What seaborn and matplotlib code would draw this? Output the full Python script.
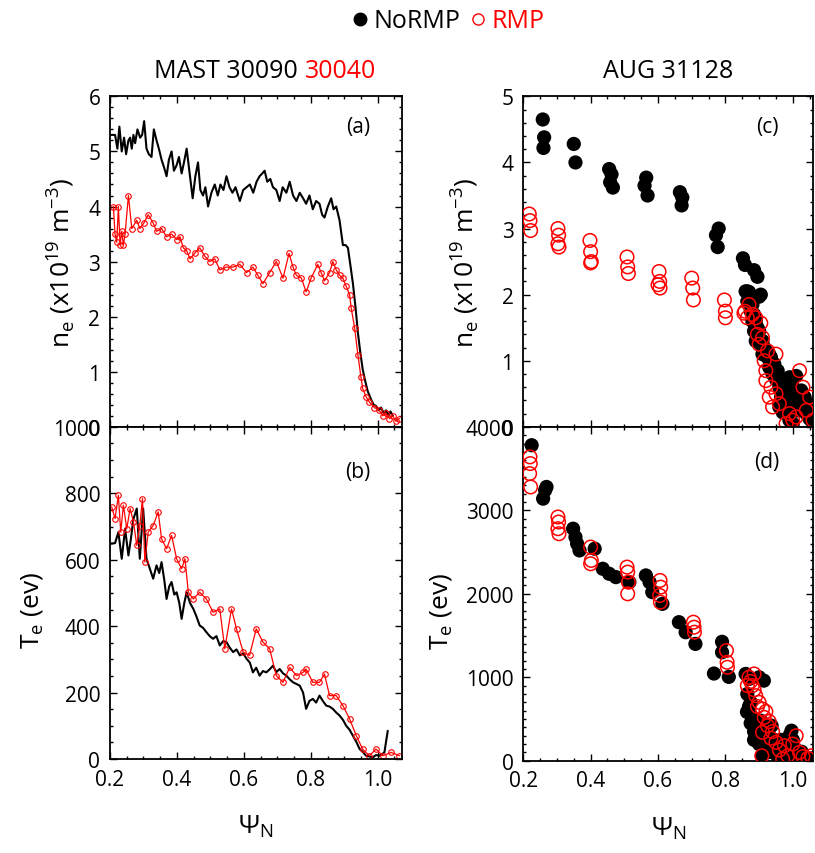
import numpy as np
import matplotlib
matplotlib.use('Agg')
import matplotlib.pyplot as plt
import seaborn as sns
from matplotlib.lines import Line2D
from matplotlib.ticker import AutoMinorLocator, FormatStrFormatter, MultipleLocator

sns.set_theme(style='ticks')
plt.rcParams['font.family'] = ['Open Sans', 'DejaVu Sans']
plt.rcParams['mathtext.fontset'] = 'custom'
plt.rcParams['mathtext.rm'] = 'Open Sans'
plt.rcParams['text.color'] = 'black'
plt.rcParams['axes.labelcolor'] = 'black'
plt.rcParams['xtick.color'] = 'black'
plt.rcParams['ytick.color'] = 'black'

# MAST density (a)
mast_ne_psi_normp = [0.200, 0.215, 0.222, 0.228, 0.235, 0.242, 0.248, 0.255, 0.260, 0.265,
                     0.270, 0.275, 0.282, 0.290, 0.296, 0.302, 0.309, 0.316, 0.324, 0.331,
                     0.339, 0.346, 0.354, 0.362, 0.369, 0.376, 0.384, 0.391, 0.399, 0.406,
                     0.414, 0.421, 0.429, 0.438, 0.447, 0.455, 0.463, 0.470, 0.478, 0.485,
                     0.493, 0.503, 0.513, 0.522, 0.530, 0.539, 0.548, 0.557, 0.566, 0.575,
                     0.588, 0.598, 0.608, 0.618, 0.628, 0.638, 0.647, 0.655, 0.662, 0.670,
                     0.679, 0.687, 0.697, 0.707, 0.716, 0.727, 0.737, 0.747, 0.757, 0.767,
                     0.777, 0.786, 0.796, 0.806, 0.816, 0.826, 0.834, 0.841, 0.851, 0.861,
                     0.868, 0.876, 0.886, 0.896, 0.904, 0.911, 0.918, 0.926, 0.934, 0.941,
                     0.948, 0.955, 0.962, 0.970, 0.980, 0.988, 0.995, 1.003, 1.010, 1.018,
                     1.025, 1.032, 1.038, 1.045]
mast_ne_normp = [5.30, 5.30, 5.05, 5.45, 5.00, 5.25, 4.95, 5.20, 5.25, 5.05,
                 5.30, 5.15, 5.40, 5.25, 5.30, 5.55, 5.05, 4.95, 4.90, 5.40,
                 5.20, 5.05, 4.85, 4.70, 4.55, 4.85, 5.00, 4.65, 4.75, 4.90,
                 4.60, 4.80, 5.05, 4.60, 4.15, 4.55, 4.80, 4.30, 4.20, 4.35,
                 4.00, 4.25, 4.40, 4.20, 4.40, 4.30, 4.55, 4.35, 4.25, 4.35,
                 4.10, 4.30, 4.35, 4.40, 4.25, 4.45, 4.55, 4.60, 4.65, 4.45,
                 4.50, 4.35, 4.30, 4.10, 4.35, 4.25, 4.45, 4.20, 4.10, 4.25,
                 4.15, 4.05, 4.20, 3.95, 4.10, 4.05, 3.85, 3.80, 4.00, 4.15,
                 3.95, 4.00, 3.75, 3.30, 3.30, 3.25, 2.95, 2.60, 2.15, 1.70,
                 1.35, 1.05, 0.85, 0.65, 0.50, 0.40, 0.38, 0.30, 0.35, 0.25,
                 0.30, 0.20, 0.28, 0.20]

mast_ne_psi_rmp = [0.210, 0.215, 0.220, 0.225, 0.230, 0.235, 0.240, 0.245, 0.255, 0.265,
                   0.280, 0.289, 0.301, 0.314, 0.329, 0.339, 0.354, 0.369, 0.384, 0.399,
                   0.409, 0.419, 0.429, 0.439, 0.453, 0.468, 0.483, 0.498, 0.513, 0.528,
                   0.548, 0.568, 0.588, 0.608, 0.627, 0.642, 0.657, 0.677, 0.697, 0.717,
                   0.735, 0.747, 0.757, 0.772, 0.786, 0.801, 0.821, 0.831, 0.841, 0.856,
                   0.866, 0.876, 0.886, 0.896, 0.906, 0.916, 0.921, 0.931, 0.941, 0.950,
                   0.955, 0.965, 0.975, 0.990, 1.005, 1.015, 1.025, 1.035, 1.045, 1.055,
                   1.065]
mast_ne_rmp = [4.00, 3.50, 3.35, 4.00, 3.30, 3.55, 3.30, 3.50, 4.20, 3.60,
               3.75, 3.60, 3.70, 3.85, 3.70, 3.55, 3.60, 3.45, 3.50, 3.40,
               3.45, 3.25, 3.20, 3.05, 3.15, 3.25, 3.10, 3.00, 3.05, 2.85,
               2.90, 2.90, 2.95, 2.80, 2.90, 2.75, 2.60, 2.80, 3.00, 2.70,
               3.15, 2.90, 2.75, 2.70, 2.45, 2.70, 2.95, 2.80, 2.65, 2.80,
               3.00, 2.85, 2.75, 2.70, 2.55, 2.40, 2.15, 1.80, 1.30, 0.90,
               0.70, 0.55, 0.45, 0.35, 0.30, 0.20, 0.25, 0.15, 0.20, 0.10,
               0.15]

# MAST temperature (b)
mast_te_psi_normp = [0.200, 0.215, 0.225, 0.235, 0.245, 0.255, 0.262, 0.270, 0.280, 0.289,
                     0.299, 0.309, 0.319, 0.329, 0.339, 0.347, 0.354, 0.362, 0.369, 0.377,
                     0.384, 0.392, 0.399, 0.407, 0.414, 0.422, 0.429, 0.439, 0.449, 0.458,
                     0.468, 0.478, 0.488, 0.498, 0.508, 0.518, 0.528, 0.538, 0.548, 0.558,
                     0.568, 0.578, 0.588, 0.598, 0.608, 0.618, 0.627, 0.637, 0.647, 0.657,
                     0.667, 0.677, 0.687, 0.697, 0.707, 0.717, 0.727, 0.737, 0.747, 0.757,
                     0.767, 0.777, 0.786, 0.796, 0.806, 0.816, 0.826, 0.836, 0.846, 0.856,
                     0.866, 0.876, 0.886, 0.896, 0.906, 0.916, 0.926, 0.936, 0.946, 0.955,
                     0.965, 0.975, 0.985, 0.995, 1.005, 1.013, 1.020, 1.030]
mast_te_normp = [648, 650, 683, 603, 693, 613, 660, 723, 754, 603,
                 754, 603, 573, 543, 583, 560, 593, 540, 482, 520,
                 533, 495, 502, 470, 422, 470, 502, 470, 452, 430,
                 402, 395, 382, 370, 362, 370, 342, 355, 352, 335,
                 322, 330, 312, 318, 302, 290, 261, 275, 251, 265,
                 261, 270, 281, 262, 271, 258, 251, 240, 231, 226,
                 221, 200, 151, 175, 181, 170, 191, 175, 161, 158,
                 151, 140, 131, 118, 100, 88, 70, 52, 30, 22,
                 10, 8, 5, 12, 10, 15, 20, 85]

mast_te_psi_rmp = [0.205, 0.215, 0.225, 0.232, 0.240, 0.250, 0.260, 0.270, 0.280, 0.289,
                   0.297, 0.304, 0.314, 0.329, 0.344, 0.354, 0.369, 0.384, 0.399, 0.414,
                   0.424, 0.434, 0.449, 0.468, 0.488, 0.508, 0.528, 0.543, 0.563, 0.578,
                   0.598, 0.617, 0.637, 0.657, 0.677, 0.697, 0.717, 0.737, 0.757, 0.777,
                   0.786, 0.806, 0.826, 0.841, 0.856, 0.876, 0.896, 0.916, 0.936, 0.955,
                   0.975, 0.995, 1.015, 1.040, 1.065]
mast_te_rmp = [759, 724, 794, 683, 764, 693, 754, 714, 643, 703,
               784, 593, 683, 703, 744, 663, 633, 673, 603, 573,
               603, 502, 482, 502, 482, 442, 452, 332, 452, 392,
               322, 312, 392, 352, 332, 251, 231, 276, 251, 261,
               271, 231, 231, 256, 191, 191, 161, 121, 70, 30,
               10, 30, 10, 20, 10]

# AUG density (c)
aug_ne_psi_normp = [0.258, 0.262, 0.260, 0.350, 0.355, 0.455, 0.462, 0.458, 0.466, 0.565,
                    0.560, 0.569, 0.665, 0.672, 0.670, 0.780, 0.772, 0.777, 0.852, 0.858,
                    0.885, 0.895, 0.865, 0.900,
                    0.860, 0.870, 0.865, 0.905, 0.875, 0.880, 0.885, 0.895, 0.890, 0.905,
                    0.910, 0.920, 0.935, 0.930, 0.940, 0.950, 0.960, 0.970, 0.965, 0.975,
                    0.970, 0.985, 1.000, 1.010, 1.020, 1.015, 1.030, 1.040, 1.050, 1.055,
                    0.990, 1.000,
                    0.875, 0.880, 0.885, 0.890, 0.900, 0.910, 0.915, 0.925, 0.930, 0.945,
                    0.955, 0.960, 0.975, 0.980, 0.990, 1.005, 1.010, 1.025, 1.035, 1.045,
                    1.050, 1.060, 0.960, 0.980]
aug_ne_normp = [4.65, 4.38, 4.22, 4.28, 4.00, 3.90, 3.82, 3.70, 3.62, 3.77,
                3.65, 3.50, 3.55, 3.47, 3.35, 3.00, 2.90, 2.72, 2.55, 2.45,
                2.37, 2.27, 2.05, 1.97,
                2.05, 2.04, 1.90, 2.00, 1.75, 1.60, 1.45, 1.50, 1.30, 1.25,
                1.10, 1.15, 1.05, 0.90, 0.80, 0.72, 0.60, 0.65, 0.45, 0.35,
                0.22, 0.50, 0.60, 0.77, 0.42, 0.25, 0.30, 0.20, 0.12, 0.30,
                0.10, 0.05,
                1.95, 1.85, 1.70, 1.60, 1.45, 1.30, 1.20, 1.05, 1.10, 0.95,
                0.85, 0.75, 0.70, 0.60, 0.75, 0.45, 0.35, 0.55, 0.45, 0.35,
                0.25, 0.05, 0.30, 0.25]

aug_ne_psi_rmp = [0.218, 0.220, 0.222, 0.303, 0.305, 0.303, 0.306, 0.398, 0.400, 0.402,
                  0.400, 0.508, 0.510, 0.512, 0.603, 0.605, 0.606, 0.600, 0.700, 0.703,
                  0.705, 0.797, 0.800, 0.800, 0.858, 0.865,
                  0.855, 0.870, 0.880, 0.890, 0.905, 0.895, 0.900, 0.910, 0.915, 0.925,
                  0.950, 0.920, 0.920, 0.935, 0.930, 0.940, 0.950, 0.960, 0.980, 1.000,
                  1.020, 1.030, 1.050, 1.040, 1.060, 0.990, 1.010]
aug_ne_rmp = [3.22, 3.12, 2.97, 3.00, 2.90, 2.77, 2.72, 2.82, 2.65, 2.50,
              2.48, 2.57, 2.42, 2.32, 2.35, 2.20, 2.10, 2.15, 2.25, 2.10,
              1.92, 1.92, 1.75, 1.65, 1.75, 1.65,
              1.72, 1.85, 1.70, 1.65, 1.57, 1.40, 1.25, 1.35, 1.00, 1.15,
              1.10, 0.85, 0.70, 0.60, 0.45, 0.30, 0.50, 0.35, 0.05, 0.10,
              0.85, 0.60, 0.45, 0.25, 0.10, 0.20, 0.15]

# AUG temperature (d)
aug_te_psi_normp = [0.225, 0.259, 0.265, 0.269, 0.348, 0.355, 0.360, 0.367, 0.412, 0.436,
                    0.455, 0.475, 0.515, 0.564, 0.575, 0.583, 0.613, 0.662, 0.682, 0.711,
                    0.766, 0.790, 0.790, 0.810,
                    0.860, 0.870, 0.914, 0.900, 0.864, 0.875, 0.880, 0.890, 0.895, 0.905,
                    0.920, 0.937, 0.930, 0.945, 0.958, 0.965, 0.975, 0.985, 0.996, 1.005,
                    1.015, 1.026, 1.035, 1.040, 1.050, 1.060, 0.908, 0.950, 0.980, 0.920,
                    0.865, 0.870, 0.875, 0.885, 0.885, 0.900, 0.910, 0.920, 0.925, 0.940,
                    0.955, 0.965, 0.990, 1.000, 1.010, 1.020, 0.995]
aug_te_normp = [3780, 3140, 3240, 3280, 2780, 2680, 2600, 2520, 2540, 2300,
                2240, 2200, 2140, 2220, 2140, 2020, 1880, 1660, 1540, 1400,
                1045, 1425, 1300, 1005,
                1040, 980, 960, 1000, 585, 700, 520, 420, 350, 480,
                380, 420, 300, 250, 180, 120, 200, 250, 360, 150,
                80, 108, 40, 20, 10, 30, 60, 80, 50, 150,
                800, 650, 450, 350, 250, 200, 300, 250, 100, 150,
                60, 250, 300, 250, 120, 60, 40]

aug_te_psi_rmp = [0.220, 0.221, 0.219, 0.222, 0.303, 0.305, 0.303, 0.306, 0.400, 0.402,
                  0.400, 0.508, 0.510, 0.512, 0.510, 0.606, 0.608, 0.605, 0.607, 0.705,
                  0.707, 0.708, 0.803, 0.805, 0.806,
                  0.885, 0.875, 0.880, 0.885, 0.890, 0.900, 0.895, 0.910, 0.920, 0.915,
                  0.930, 0.925, 0.910, 0.935, 0.940, 0.950, 0.975, 0.960, 0.908, 1.000,
                  1.010, 1.020, 1.030, 1.045, 1.055, 0.985, 0.970, 0.865, 0.870]
aug_te_rmp = [3640, 3560, 3440, 3280, 2920, 2860, 2780, 2720, 2560, 2400,
              2360, 2320, 2260, 2140, 2000, 2160, 2080, 1980, 1900, 1660,
              1600, 1540, 1320, 1180, 1120,
              1040, 950, 900, 850, 780, 700, 650, 620, 590, 520,
              470, 420, 340, 270, 350, 220, 180, 130, 60, 200,
              300, 100, 50, 30, 60, 60, 20, 900, 1000]

fig = plt.figure(figsize=(8.15, 8.54), dpi=100)
ax_a = fig.add_axes([0.135, 0.499, 0.358, 0.387])
ax_b = fig.add_axes([0.135, 0.110, 0.358, 0.389])
ax_c = fig.add_axes([0.642, 0.499, 0.356, 0.387])
ax_d = fig.add_axes([0.642, 0.108, 0.356, 0.391])

red_line = dict(color='red', lw=0.9, marker='o', markersize=4, markerfacecolor='none',
                markeredgecolor='red', markeredgewidth=0.8)

sns.lineplot(x=mast_ne_psi_normp, y=mast_ne_normp, ax=ax_a, color='black', lw=1.5,
             sort=False, estimator=None)
sns.lineplot(x=mast_ne_psi_rmp, y=mast_ne_rmp, ax=ax_a, sort=False, estimator=None, **red_line)
sns.lineplot(x=mast_te_psi_normp, y=mast_te_normp, ax=ax_b, color='black', lw=1.5,
             sort=False, estimator=None)
sns.lineplot(x=mast_te_psi_rmp, y=mast_te_rmp, ax=ax_b, sort=False, estimator=None, **red_line)

sns.scatterplot(x=aug_ne_psi_normp, y=aug_ne_normp, ax=ax_c, color='black', s=105,
                edgecolor='none', zorder=3)
sns.scatterplot(x=aug_ne_psi_rmp, y=aug_ne_rmp, ax=ax_c, s=95, marker='o',
                facecolors='none', edgecolors='red', linewidths=1.1, zorder=4)
sns.scatterplot(x=aug_te_psi_normp, y=aug_te_normp, ax=ax_d, color='black', s=105,
                edgecolor='none', zorder=3)
sns.scatterplot(x=aug_te_psi_rmp, y=aug_te_rmp, ax=ax_d, s=95, marker='o',
                facecolors='none', edgecolors='red', linewidths=1.1, zorder=4)

ax_a.set_ylim(0, 6)
ax_b.set_ylim(0, 1000)
ax_c.set_ylim(0, 5)
ax_d.set_ylim(0, 4000)
ax_a.yaxis.set_major_locator(MultipleLocator(1))
ax_b.yaxis.set_major_locator(MultipleLocator(200))
ax_c.yaxis.set_major_locator(MultipleLocator(1))
ax_d.yaxis.set_major_locator(MultipleLocator(1000))
minors = {ax_a: 5, ax_b: 4, ax_c: 5, ax_d: 10}

for ax, xmax in ((ax_a, 1.072), (ax_b, 1.072), (ax_c, 1.061), (ax_d, 1.061)):
    ax.set_xlim(0.2, xmax)
    ax.set_xticks([0.2, 0.4, 0.6, 0.8, 1.0])
    ax.xaxis.set_major_formatter(FormatStrFormatter('%.1f'))
    ax.xaxis.set_minor_locator(AutoMinorLocator(4))
    ax.yaxis.set_minor_locator(AutoMinorLocator(minors[ax]))
    ax.tick_params(which='both', direction='in', top=True, right=True, width=1.0,
                   color='black', labelcolor='black')
    ax.tick_params(which='major', length=5, labelsize=15)
    ax.tick_params(axis='y', which='major', pad=7)
    ax.tick_params(axis='x', which='major', pad=7)
    ax.tick_params(which='minor', length=2.5)
    for sp in ax.spines.values():
        sp.set_linewidth(1.3)
        sp.set_color('black')

for ax in (ax_a, ax_c):
    ax.tick_params(axis='x', labelbottom=False)

ne_label = r'n$_\mathregular{e}$ (x10$^\mathregular{19}$ m$^\mathregular{-3}$)'
te_label = r'T$_\mathregular{e}$ (ev)'
ax_a.set_ylabel(ne_label, fontsize=19, va='center')
ax_a.yaxis.set_label_coords(-0.17, 0.5)
ax_b.set_ylabel(te_label, fontsize=19, va='center')
ax_b.yaxis.set_label_coords(-0.267, 0.45)
ax_c.set_ylabel(ne_label, fontsize=19, va='center')
ax_c.yaxis.set_label_coords(-0.205, 0.5)
ax_d.set_ylabel(te_label, fontsize=19, va='center')
ax_d.yaxis.set_label_coords(-0.284, 0.45)
for ax in (ax_b, ax_d):
    ax.set_xlabel('Ψ$_\\mathregular{N}$', fontsize=19, va='center')
    ax.xaxis.set_label_coords(0.5, -0.2)

for ax, lab, ypos in ((ax_a, '(a)', 0.91), (ax_b, '(b)', 0.865), (ax_c, '(c)', 0.91), (ax_d, '(d)', 0.895)):
    xpos = 0.85 if ax in (ax_a, ax_b) else 0.84
    ax.text(xpos, ypos, lab, transform=ax.transAxes, ha='center', va='center', fontsize=15)

fig.text(298 / 815, 1 - 72 / 854, 'MAST 30090', ha='right', va='center', fontsize=18, color='black')
fig.text(305 / 815, 1 - 72 / 854, '30040', ha='left', va='center', fontsize=18, color='red')
fig.text(0.5 * (ax_c.get_position().x0 + ax_c.get_position().x1), 1 - 72 / 854, 'AUG 31128',
         ha='center', va='center', fontsize=18, color='black')

handles = [Line2D([], [], ls='', marker='o', color='black', markersize=9),
           Line2D([], [], ls='', marker='o', markerfacecolor='none', markeredgecolor='red',
                  markeredgewidth=1.0, markersize=8)]
leg = fig.legend(handles, ['NoRMP', 'RMP'], loc='center', bbox_to_anchor=(0.549, 1 - 22 / 854),
                 ncol=2, frameon=False, fontsize=18, handletextpad=0.15, columnspacing=0.3,
                 handlelength=0.8)
leg.get_texts()[0].set_color('black')
leg.get_texts()[1].set_color('red')

fig.savefig('out.png', dpi=100)
